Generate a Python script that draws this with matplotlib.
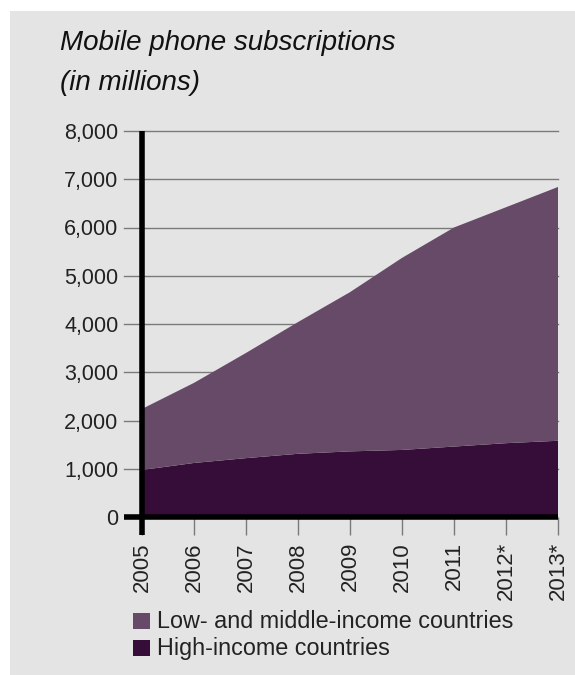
import matplotlib
matplotlib.use("Agg")
import matplotlib.pyplot as plt
from matplotlib.patches import Rectangle
import numpy as np

years = ["2005", "2006", "2007", "2008", "2009", "2010", "2011", "2012*", "2013*"]
high_income = [975, 1120, 1220, 1310, 1360, 1390, 1460, 1530, 1580]
total = [2240, 2780, 3400, 4040, 4660, 5370, 6000, 6420, 6840]
low_middle = [t - h for t, h in zip(total, high_income)]
yticks = [0, 1000, 2000, 3000, 4000, 5000, 6000, 7000, 8000]
title = "Mobile phone subscriptions\n(in millions)"
legend_labels = ["Low- and middle-income countries", "High-income countries"]

c_low = "#674a67"
c_high = "#360c38"
bg = "#e4e4e4"

plt.rcParams['font.family'] = ['Liberation Sans', 'DejaVu Sans']

W, H = 575, 675
fig = plt.figure(figsize=(W / 100, H / 100), dpi=100, facecolor="white")
fig.patches.append(Rectangle((10 / W, 0), 1, 1 - 11 / H, transform=fig.transFigure,
                             facecolor=bg, edgecolor="none", zorder=-10))

x0, x1 = 142, 558
y0, y1 = 517, 131
ax = fig.add_axes([x0 / W, 1 - y0 / H, (x1 - x0) / W, (y0 - y1) / H])
ax.set_facecolor("none")
ax.set_zorder(1)
x = np.arange(len(years))
ax.stackplot(x, high_income, low_middle, colors=[c_high, c_low], zorder=2)
ax.set_xlim(0, len(years) - 1)
ax.set_ylim(0, 8000)

for s in ax.spines.values():
    s.set_visible(False)

ext = 18 / (x1 - x0) * (len(years) - 1)
for v in yticks[1:]:
    ax.plot([-ext, len(years) - 1], [v, v], color="#7a7a7a", lw=1.0,
            clip_on=False, zorder=1)

ax.set_yticks(yticks)
ax.set_yticklabels([f"{v:,}" for v in yticks], fontsize=15.5, color="#222222")
ax.tick_params(axis="y", length=0, pad=17)
ax.set_xticks(x)
ax.set_xticklabels(years, rotation=90, fontsize=16, color="#222222", va="top")
ax.tick_params(axis="x", length=13, width=1.0, color="#7a7a7a", pad=5)

ax.plot([0, 0], [-18 * 8000 / (y0 - y1), 8000], color="black", lw=4, clip_on=False,
        zorder=5, solid_capstyle="butt")
ax.plot([-ext, len(years) - 1], [0, 0], color="black",
        lw=4, clip_on=False, zorder=5, solid_capstyle="butt")

fig.text(60 / W, 1 - 63 / H, title, fontsize=20, style="italic", color="#111111",
         va="center", linespacing=1.7, ha="left")

for i, (lab, col) in enumerate(zip(legend_labels, [c_low, c_high])):
    cy = 621 + i * 27
    fig.patches.append(Rectangle((133 / W, 1 - (cy + 8) / H), 17 / W, 16 / H,
                                 transform=fig.transFigure, facecolor=col,
                                 edgecolor="none", zorder=3))
    fig.text(157 / W, 1 - cy / H, lab, fontsize=16.8, color="#222222", va="center",
             ha="left")

fig.savefig("out.png", dpi=100, facecolor="white")
